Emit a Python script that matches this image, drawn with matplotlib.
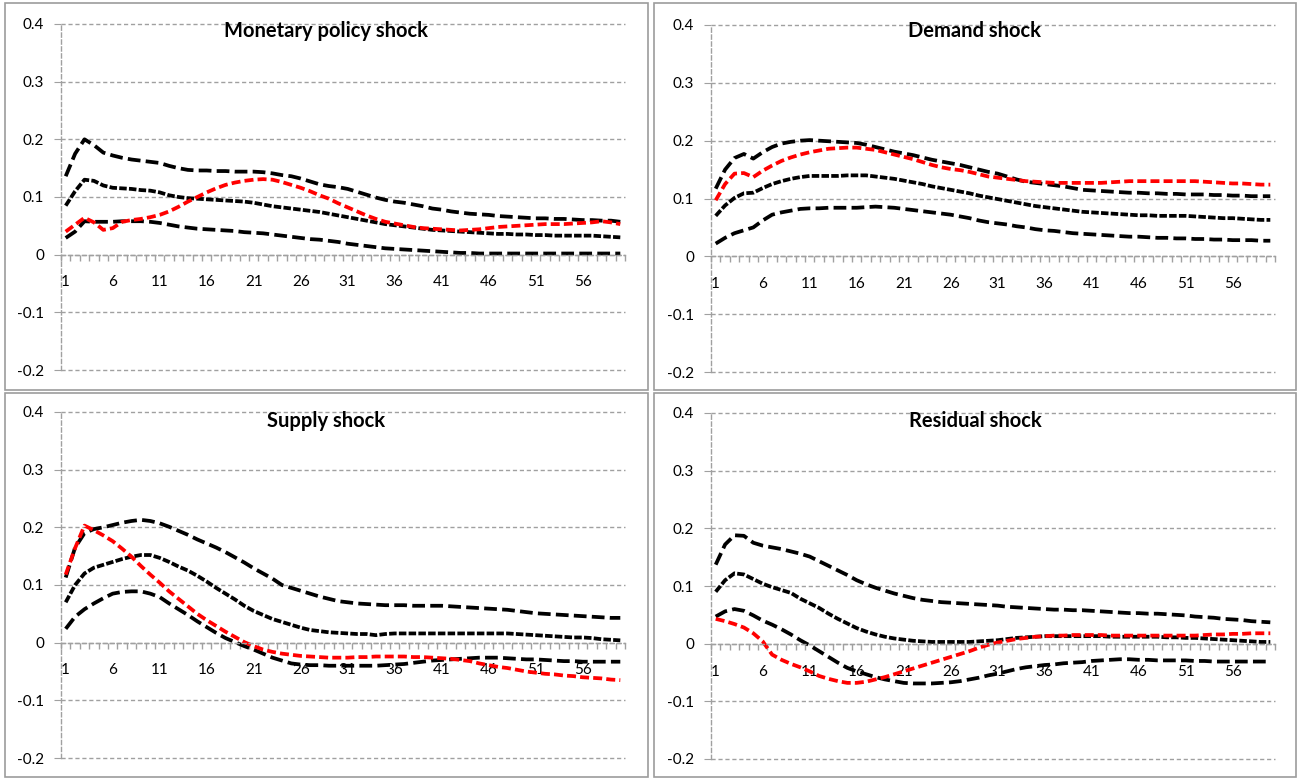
import numpy as np
import matplotlib
matplotlib.use("Agg")
import matplotlib.pyplot as plt
from matplotlib.patches import Rectangle

plt.rcParams['font.family'] = ['Lato', 'DejaVu Sans']

periods = np.arange(1, 61)
xtick_labels = [1, 6, 11, 16, 21, 26, 31, 36, 41, 46, 51, 56]
yticks = [-0.2, -0.1, 0, 0.1, 0.2, 0.3, 0.4]
titles = ['Monetary policy shock', 'Demand shock', 'Supply shock', 'Residual shock']

# monetary policy shock
mp_upper = [0.136, 0.175, 0.200, 0.190, 0.177, 0.172, 0.168, 0.165, 0.163, 0.161,
            0.159, 0.154, 0.150, 0.147, 0.146, 0.146, 0.145, 0.145, 0.144, 0.144,
            0.144, 0.143, 0.141, 0.138, 0.136, 0.132, 0.127, 0.122, 0.119, 0.117,
            0.114, 0.109, 0.104, 0.099, 0.095, 0.092, 0.090, 0.087, 0.084, 0.080,
            0.078, 0.075, 0.073, 0.071, 0.070, 0.069, 0.067, 0.066, 0.065, 0.064,
            0.063, 0.063, 0.062, 0.062, 0.061, 0.060, 0.060, 0.059, 0.059, 0.057]
mp_median = [0.085, 0.110, 0.130, 0.128, 0.120, 0.116, 0.115, 0.114, 0.112, 0.111,
             0.108, 0.103, 0.100, 0.098, 0.097, 0.096, 0.095, 0.094, 0.093, 0.092,
             0.090, 0.087, 0.084, 0.082, 0.080, 0.078, 0.076, 0.074, 0.071, 0.068,
             0.065, 0.062, 0.059, 0.056, 0.053, 0.051, 0.049, 0.047, 0.045, 0.043,
             0.042, 0.041, 0.040, 0.039, 0.038, 0.037, 0.036, 0.036, 0.035, 0.035,
             0.034, 0.034, 0.033, 0.033, 0.033, 0.033, 0.033, 0.032, 0.031, 0.030]
mp_lower = [0.029, 0.040, 0.058, 0.057, 0.057, 0.057, 0.058, 0.058, 0.058, 0.057,
            0.055, 0.052, 0.049, 0.047, 0.045, 0.044, 0.043, 0.042, 0.041, 0.039,
            0.038, 0.037, 0.035, 0.033, 0.031, 0.029, 0.027, 0.026, 0.024, 0.022,
            0.019, 0.017, 0.015, 0.013, 0.011, 0.010, 0.009, 0.008, 0.007, 0.006,
            0.005, 0.004, 0.003, 0.003, 0.002, 0.002, 0.002, 0.002, 0.002, 0.002,
            0.002, 0.002, 0.002, 0.002, 0.002, 0.002, 0.002, 0.002, 0.002, 0.002]
mp_red = [0.040, 0.052, 0.064, 0.056, 0.043, 0.046, 0.057, 0.060, 0.062, 0.065,
          0.069, 0.075, 0.083, 0.092, 0.100, 0.108, 0.115, 0.121, 0.125, 0.128,
          0.130, 0.131, 0.130, 0.126, 0.121, 0.116, 0.110, 0.103, 0.097, 0.089,
          0.082, 0.075, 0.068, 0.062, 0.057, 0.054, 0.051, 0.048, 0.046, 0.045,
          0.044, 0.043, 0.042, 0.043, 0.044, 0.046, 0.048, 0.049, 0.050, 0.051,
          0.052, 0.053, 0.053, 0.053, 0.054, 0.055, 0.056, 0.058, 0.056, 0.053]

# demand shock
dm_upper = [0.117, 0.150, 0.170, 0.177, 0.169, 0.180, 0.189, 0.195, 0.198, 0.200,
            0.201, 0.200, 0.199, 0.198, 0.197, 0.196, 0.193, 0.189, 0.185, 0.181,
            0.178, 0.175, 0.171, 0.167, 0.164, 0.161, 0.158, 0.154, 0.150, 0.146,
            0.143, 0.138, 0.133, 0.129, 0.127, 0.125, 0.123, 0.121, 0.118, 0.115,
            0.114, 0.113, 0.112, 0.111, 0.110, 0.110, 0.109, 0.109, 0.108, 0.108,
            0.107, 0.107, 0.107, 0.106, 0.106, 0.105, 0.105, 0.104, 0.104, 0.104]
dm_median = [0.070, 0.088, 0.101, 0.109, 0.110, 0.118, 0.125, 0.130, 0.134, 0.137,
             0.139, 0.139, 0.139, 0.139, 0.140, 0.140, 0.140, 0.138, 0.136, 0.134,
             0.131, 0.128, 0.125, 0.121, 0.118, 0.115, 0.112, 0.109, 0.105, 0.102,
             0.099, 0.096, 0.093, 0.090, 0.087, 0.085, 0.083, 0.081, 0.079, 0.077,
             0.076, 0.075, 0.074, 0.073, 0.072, 0.071, 0.071, 0.070, 0.070, 0.070,
             0.070, 0.069, 0.068, 0.067, 0.066, 0.066, 0.065, 0.064, 0.063, 0.063]
dm_lower = [0.022, 0.032, 0.040, 0.045, 0.050, 0.062, 0.072, 0.076, 0.079, 0.082,
            0.083, 0.083, 0.084, 0.084, 0.084, 0.084, 0.085, 0.086, 0.085, 0.084,
            0.082, 0.080, 0.078, 0.076, 0.074, 0.072, 0.069, 0.066, 0.062, 0.059,
            0.057, 0.055, 0.052, 0.050, 0.047, 0.045, 0.044, 0.042, 0.040, 0.039,
            0.038, 0.037, 0.036, 0.035, 0.034, 0.034, 0.033, 0.032, 0.032, 0.031,
            0.031, 0.030, 0.030, 0.029, 0.029, 0.028, 0.028, 0.028, 0.027, 0.027]
dm_red = [0.097, 0.125, 0.143, 0.144, 0.137, 0.148, 0.157, 0.165, 0.171, 0.176,
          0.180, 0.183, 0.186, 0.187, 0.188, 0.188, 0.186, 0.184, 0.180, 0.176,
          0.172, 0.168, 0.163, 0.158, 0.154, 0.151, 0.149, 0.146, 0.142, 0.138,
          0.136, 0.134, 0.132, 0.130, 0.129, 0.128, 0.127, 0.127, 0.127, 0.127,
          0.127, 0.127, 0.128, 0.129, 0.130, 0.130, 0.130, 0.130, 0.130, 0.130,
          0.130, 0.130, 0.129, 0.128, 0.127, 0.126, 0.126, 0.125, 0.124, 0.124]

# supply shock
sp_upper = [0.113, 0.165, 0.190, 0.197, 0.200, 0.204, 0.208, 0.211, 0.213, 0.211,
            0.207, 0.201, 0.194, 0.187, 0.179, 0.172, 0.165, 0.157, 0.148, 0.139,
            0.129, 0.120, 0.111, 0.100, 0.095, 0.090, 0.085, 0.080, 0.076, 0.072,
            0.070, 0.068, 0.067, 0.066, 0.065, 0.065, 0.065, 0.064, 0.064, 0.064,
            0.064, 0.063, 0.062, 0.061, 0.060, 0.059, 0.058, 0.057, 0.055, 0.053,
            0.051, 0.050, 0.049, 0.048, 0.047, 0.046, 0.045, 0.044, 0.043, 0.043]
sp_median = [0.070, 0.100, 0.120, 0.130, 0.135, 0.140, 0.145, 0.149, 0.152, 0.152,
             0.147, 0.140, 0.132, 0.125, 0.116, 0.106, 0.095, 0.085, 0.075, 0.064,
             0.055, 0.048, 0.041, 0.036, 0.031, 0.026, 0.022, 0.020, 0.018, 0.017,
             0.016, 0.015, 0.015, 0.013, 0.015, 0.016, 0.016, 0.016, 0.016, 0.016,
             0.016, 0.016, 0.016, 0.016, 0.016, 0.016, 0.016, 0.016, 0.015, 0.014,
             0.013, 0.012, 0.011, 0.010, 0.009, 0.009, 0.008, 0.006, 0.005, 0.004]
sp_lower = [0.024, 0.045, 0.058, 0.068, 0.077, 0.085, 0.088, 0.089, 0.089, 0.085,
            0.079, 0.068, 0.058, 0.048, 0.037, 0.027, 0.017, 0.008, 0.001, -0.006,
            -0.012, -0.019, -0.026, -0.031, -0.036, -0.038, -0.039, -0.039, -0.040, -0.040,
            -0.040, -0.040, -0.040, -0.040, -0.039, -0.038, -0.037, -0.035, -0.033, -0.031,
            -0.030, -0.029, -0.028, -0.027, -0.026, -0.026, -0.026, -0.027, -0.028, -0.029,
            -0.029, -0.030, -0.031, -0.032, -0.032, -0.033, -0.033, -0.033, -0.033, -0.033]
sp_red = [0.118, 0.164, 0.203, 0.195, 0.186, 0.176, 0.163, 0.149, 0.133, 0.118,
          0.104, 0.089, 0.076, 0.063, 0.050, 0.039, 0.029, 0.019, 0.010, 0.001,
          -0.006, -0.012, -0.016, -0.019, -0.021, -0.023, -0.024, -0.025, -0.026, -0.026,
          -0.026, -0.025, -0.025, -0.024, -0.024, -0.024, -0.024, -0.025, -0.025, -0.026,
          -0.027, -0.028, -0.030, -0.032, -0.036, -0.039, -0.042, -0.044, -0.047, -0.050,
          -0.052, -0.054, -0.055, -0.057, -0.058, -0.060, -0.061, -0.062, -0.064, -0.065]

# residual shock
rs_upper = [0.137, 0.172, 0.188, 0.187, 0.175, 0.170, 0.167, 0.164, 0.160, 0.156,
            0.151, 0.143, 0.135, 0.127, 0.119, 0.110, 0.103, 0.097, 0.092, 0.087,
            0.083, 0.079, 0.076, 0.074, 0.072, 0.071, 0.070, 0.069, 0.068, 0.067,
            0.066, 0.064, 0.063, 0.062, 0.061, 0.060, 0.059, 0.059, 0.058, 0.058,
            0.057, 0.056, 0.055, 0.054, 0.053, 0.053, 0.052, 0.052, 0.051, 0.050,
            0.049, 0.047, 0.046, 0.045, 0.043, 0.042, 0.041, 0.039, 0.038, 0.037]
rs_median = [0.090, 0.110, 0.122, 0.120, 0.112, 0.104, 0.098, 0.093, 0.088, 0.078,
             0.070, 0.062, 0.052, 0.043, 0.035, 0.027, 0.021, 0.016, 0.012, 0.009,
             0.007, 0.005, 0.004, 0.003, 0.003, 0.003, 0.003, 0.003, 0.004, 0.005,
             0.006, 0.008, 0.010, 0.011, 0.012, 0.013, 0.013, 0.013, 0.013, 0.013,
             0.013, 0.013, 0.012, 0.012, 0.012, 0.012, 0.012, 0.012, 0.011, 0.011,
             0.010, 0.010, 0.009, 0.008, 0.007, 0.006, 0.005, 0.004, 0.003, 0.003]
rs_lower = [0.047, 0.056, 0.060, 0.057, 0.049, 0.040, 0.033, 0.025, 0.016, 0.006,
            -0.003, -0.013, -0.023, -0.033, -0.042, -0.048, -0.053, -0.058, -0.062, -0.065,
            -0.068, -0.069, -0.069, -0.069, -0.068, -0.067, -0.065, -0.062, -0.059, -0.055,
            -0.052, -0.048, -0.044, -0.041, -0.039, -0.037, -0.036, -0.034, -0.033, -0.032,
            -0.030, -0.029, -0.028, -0.027, -0.027, -0.028, -0.028, -0.029, -0.029, -0.029,
            -0.029, -0.030, -0.030, -0.031, -0.031, -0.031, -0.031, -0.031, -0.031, -0.031]
rs_red = [0.043, 0.039, 0.034, 0.028, 0.018, 0.004, -0.019, -0.028, -0.035, -0.041,
          -0.048, -0.056, -0.061, -0.065, -0.068, -0.068, -0.066, -0.062, -0.058, -0.053,
          -0.048, -0.043, -0.038, -0.033, -0.028, -0.023, -0.018, -0.013, -0.007, -0.002,
          0.002, 0.005, 0.008, 0.010, 0.012, 0.013, 0.014, 0.014, 0.015, 0.015,
          0.015, 0.015, 0.014, 0.014, 0.014, 0.014, 0.014, 0.014, 0.014, 0.014,
          0.014, 0.014, 0.015, 0.016, 0.016, 0.017, 0.017, 0.018, 0.018, 0.018]

panels = [
    (mp_upper, mp_median, mp_lower, mp_red),
    (dm_upper, dm_median, dm_lower, dm_red),
    (sp_upper, sp_median, sp_lower, sp_red),
    (rs_upper, rs_median, rs_lower, rs_red),
]

W, H = 1297, 778
fig = plt.figure(figsize=(W / 100, H / 100), dpi=100)

# pixel boxes: (panel frame), (plot area)
frames = [(5, 3, 648, 390), (654, 3, 1296, 390), (5, 393, 648, 777), (654, 393, 1296, 777)]
plots = [(61, 24, 625, 370), (711, 25, 1275, 372), (61, 412, 625, 758), (711, 413, 1275, 759)]

grid_col = '#a0a0a0'

for i, (up, med, lo, red) in enumerate(panels):
    fx0, fy0, fx1, fy1 = frames[i]
    fig.patches.append(Rectangle((fx0 / W, 1 - fy1 / H), (fx1 - fx0) / W, (fy1 - fy0) / H,
                                 transform=fig.transFigure, fill=False,
                                 edgecolor='#9c9c9c', lw=1.2))
    fig.text((fx0 + fx1) / 2 / W, 1 - (fy0 + 28) / H, titles[i],
             ha='center', va='center', fontsize=14.5, fontweight='bold')

    px0, py0, px1, py1 = plots[i]
    ax = fig.add_axes([px0 / W, 1 - py1 / H, (px1 - px0) / W, (py1 - py0) / H])
    ax.set_xlim(0.5, 60.5)
    ax.set_ylim(-0.2, 0.4)

    for s in ['top', 'right']:
        ax.spines[s].set_visible(False)
    ax.spines['left'].set_color(grid_col)
    ax.spines['left'].set_linestyle((0, (3, 2)))
    ax.spines['left'].set_linewidth(1)
    ax.spines['bottom'].set_position(('data', 0))
    ax.spines['bottom'].set_color(grid_col)
    ax.spines['bottom'].set_linestyle((0, (3, 2)))
    ax.spines['bottom'].set_linewidth(1)

    ax.set_yticks(yticks)
    ax.set_yticklabels(['-0.2', '-0.1', '0', '0.1', '0.2', '0.3', '0.4'])
    ax.tick_params(axis='y', length=5, color=grid_col, pad=7, labelsize=11)
    ax.yaxis.grid(True, color=grid_col, linestyle=(0, (3, 2)), linewidth=1)
    for gl in ax.get_ygridlines():
        gl.set_clip_on(False)

    ax.set_xticks(xtick_labels)
    ax.set_xticklabels([str(v) for v in xtick_labels])
    ax.set_xticks(np.arange(0.5, 61, 1), minor=True)
    ax.tick_params(axis='x', which='major', length=0, pad=15, labelsize=11)
    ax.tick_params(axis='x', which='minor', length=4, color=grid_col, width=1)
    ax.set_axisbelow(True)

    ax.plot(periods, up, color='black', lw=2.7, linestyle=(0, (3.4, 1.4)))
    ax.plot(periods, lo, color='black', lw=2.7, linestyle=(0, (3.4, 1.4)))
    ax.plot(periods, med, color='black', lw=2.7, linestyle=(0, (2.0, 0.6)))
    ax.plot(periods, red, color='#ff0000', lw=2.7, linestyle=(0, (2.4, 1.1)))

fig.savefig('out.png', dpi=100)
